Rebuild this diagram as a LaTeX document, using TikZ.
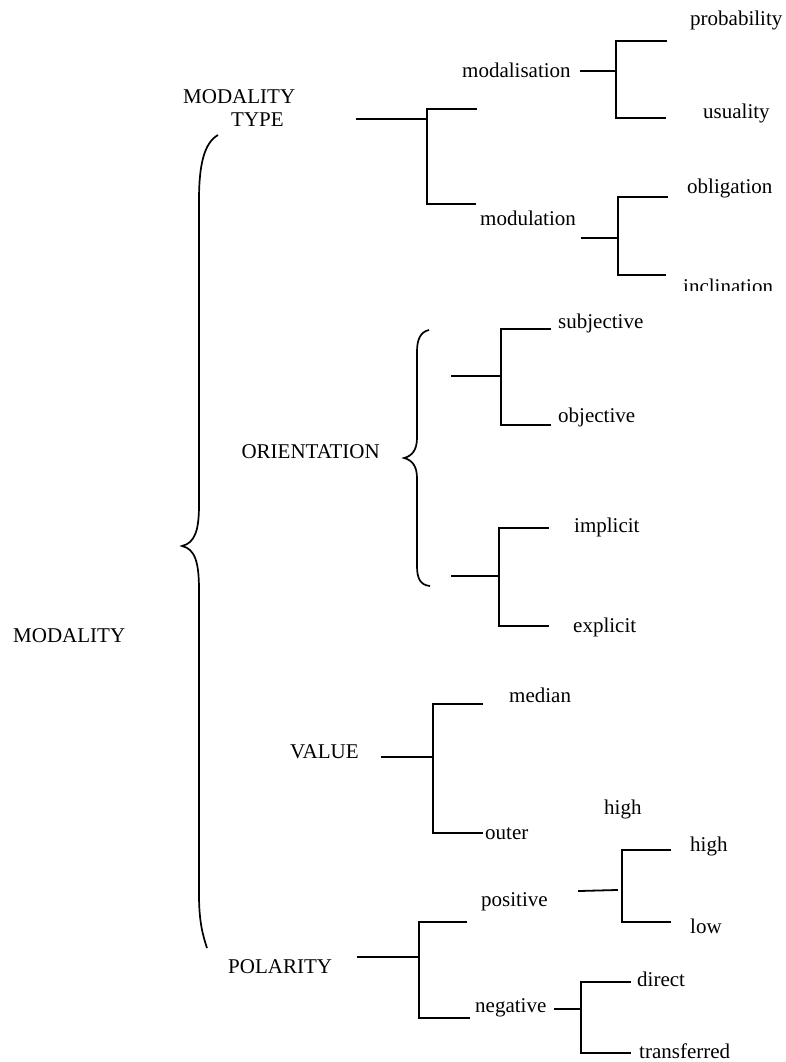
\documentclass[tikz,border=0pt]{standalone}
\usepackage{fontspec}
\setmainfont{Liberation Serif}
\begin{document}
\begin{tikzpicture}[x=1pt,y=-1pt,
  lbl/.style={inner sep=0pt,anchor=base west,font=\fontsize{21}{25}\selectfont},
  link/.style={line width=1.8pt,line cap=rect},
  brace/.style={line width=1.7pt}]
\useasboundingbox (0,0) rectangle (785,1062);

% ---- labels ----
\node[lbl] (modality)  at (13,642)  {MODALITY};
\node[lbl] (mtype1)    at (183,103) {MODALITY};
\node[lbl] (mtype2)    at (231,127) {TYPE};
\node[lbl] (modal)     at (462,78)  {modalisation};
\node[lbl] (modul)     at (480,225) {modulation};
\node[lbl] (prob)      at (690,26)  {probability};
\node[lbl] (usual)     at (703,118) {usuality};
\node[lbl] (oblig)     at (687,193) {obligation};
\begin{scope}
  \clip (600,250) rectangle (785,290);
  \node[lbl] (incl)    at (683,293) {inclination};
\end{scope}
\node[lbl,anchor=base east] (orient) at (380,458) {ORIENTATION};
\node[lbl] (subj)      at (558,328) {subjective};
\node[lbl] (obj)       at (558,422) {objective};
\node[lbl] (impl)      at (574,532) {implicit};
\node[lbl] (expl)      at (573,632) {explicit};
\node[lbl] (value)     at (290,758) {VALUE};
\node[lbl] (median)    at (509,702) {median};
\node[lbl] (outer)     at (485,839) {outer};
\node[lbl] (hightop)   at (604,814) {high};
\node[lbl] (polarity)  at (228,973) {POLARITY};
\node[lbl] (positive)  at (481,906) {positive};
\node[lbl] (negative)  at (475,1012) {negative};
\node[lbl] (high)      at (690,851) {high};
\node[lbl] (low)       at (690,933) {low};
\node[lbl] (direct)    at (637,986) {direct};
\node[lbl] (transf)    at (639,1058) {transferred};

% ---- braces ----
\coordinate (bigtop) at (218,135);
\coordinate (bigtip) at (182,546);
\coordinate (bigbot) at (207,948);
\draw[brace] (bigtop) .. controls (204,143) and (199,165) .. (199,200)
  -- (199,505) .. controls (199,530) and (195,543) .. (bigtip)
  .. controls (195,549) and (199,562) .. (199,590)
  -- (199,895) .. controls (199,922) and (203,936) .. (bigbot);

\coordinate (ortop) at (429,330);
\coordinate (ortip) at (404,458);
\coordinate (orbot) at (430,586);
\draw[brace] (ortop) .. controls (420,332) and (417,340) .. (417,352)
  -- (417,438) .. controls (417,450) and (412,456) .. (ortip)
  .. controls (412,460) and (417,466) .. (417,478)
  -- (417,566) .. controls (417,578) and (420,585) .. (orbot);

% ---- bracket connectors: stub start, junction, upper end, lower end ----
\coordinate (tS) at (357,119);  \coordinate (tJ) at (427,119);
\coordinate (tU) at (476,109);  \coordinate (tL) at (475,204);
\draw[link] (tS) -- (tJ);
\draw[link] (tU) -- (tU -| tJ) -- (tL -| tJ) -- (tL);

\coordinate (aS) at (581,71);   \coordinate (aJ) at (616,71);
\coordinate (aU) at (666,41);   \coordinate (aL) at (665,118);
\draw[link] (aS) -- (aJ);
\draw[link] (aU) -- (aU -| aJ) -- (aL -| aJ) -- (aL);

\coordinate (uS) at (582,238);  \coordinate (uJ) at (618,238);
\coordinate (uU) at (667,197);  \coordinate (uL) at (665,275);
\draw[link] (uS) -- (uJ);
\draw[link] (uU) -- (uU -| uJ) -- (uL -| uJ) -- (uL);

\coordinate (sS) at (452,376);  \coordinate (sJ) at (501,376);
\coordinate (sU) at (550,329);  \coordinate (sL) at (550,425);
\draw[link] (sS) -- (sJ);
\draw[link] (sU) -- (sU -| sJ) -- (sL -| sJ) -- (sL);

\coordinate (iS) at (452,576);  \coordinate (iJ) at (499,576);
\coordinate (iU) at (548,528);  \coordinate (iL) at (548,626);
\draw[link] (iS) -- (iJ);
\draw[link] (iU) -- (iU -| iJ) -- (iL -| iJ) -- (iL);

\coordinate (vS) at (382,757);  \coordinate (vJ) at (433,757);
\coordinate (vU) at (482,704);  \coordinate (vL) at (482,833);
\draw[link] (vS) -- (vJ);
\draw[link] (vU) -- (vU -| vJ) -- (vL -| vJ) -- (vL);

\coordinate (pS) at (358,957);  \coordinate (pJ) at (419,957);
\coordinate (pU) at (466,922);  \coordinate (pL) at (469,1018);
\draw[link] (pS) -- (pJ);
\draw[link] (pU) -- (pU -| pJ) -- (pL -| pJ) -- (pL);

\coordinate (qS) at (579,891);  \coordinate (qE) at (617,890);
\coordinate (qJ) at (622,890);
\coordinate (qU) at (670,850);  \coordinate (qL) at (670,922);
\draw[link] (qS) -- (qE);
\draw[link] (qU) -- (qU -| qJ) -- (qL -| qJ) -- (qL);

\coordinate (nS) at (555,1009); \coordinate (nJ) at (581,1009);
\coordinate (nU) at (630,982);  \coordinate (nL) at (630,1053);
\draw[link] (nS) -- (nJ);
\draw[link] (nU) -- (nU -| nJ) -- (nL -| nJ) -- (nL);
\end{tikzpicture}
\end{document}
